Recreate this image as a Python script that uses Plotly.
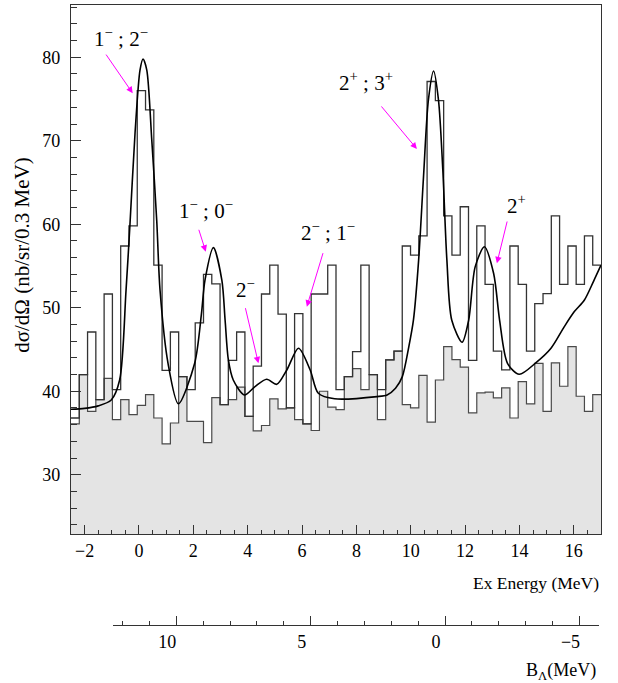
import plotly.graph_objects as go

# ---------------- data ----------------
EX_RANGE = [-2.5, 17.0]          # excitation-energy axis (MeV)
N_BINS = 64                      # histogram bins spanning EX_RANGE

# total spectrum (open histogram), one value per bin
total_counts = [
    36.8, 42.0, 47.1, 39.0, 51.65, 40.2, 57.4, 59.8, 76.0, 73.7,
    55.1, 42.5, 47.1, 41.75, 40.2, 48.2, 54.0, 52.85, 38.4, 43.7,
    47.1, 37.0, 43.0, 51.65, 55.1, 49.25, 38.0, 49.3, 36.1, 51.65,
    51.65, 55.1, 40.2, 41.75, 44.75, 55.1, 42.0, 40.2, 43.75, 44.8,
    57.4, 56.3, 58.6, 77.1, 74.8, 61.0, 56.3, 62.1, 43.7, 59.8,
    52.8, 44.8, 42.55, 57.4, 52.8, 44.8, 50.5, 51.7, 61.0, 52.8,
    57.4, 52.8, 58.6, 55.1,
]

# background spectrum (grey filled histogram)
background_counts = [
    36.1, 42.0, 37.6, 39.0, 41.55, 36.6, 39.0, 37.2, 38.3, 39.6,
    36.8, 33.7, 36.2, 41.75, 36.4, 36.4, 33.85, 39.24, 38.4, 39.0,
    40.5, 37.0, 35.25, 35.9, 39.1, 37.9, 38.0, 36.6, 36.1, 35.3,
    40.0, 38.1, 37.8, 41.75, 42.7, 40.2, 42.0, 36.6, 43.75, 44.8,
    38.4, 38.0, 41.9, 36.3, 41.35, 45.35, 43.8, 42.9, 37.4, 39.8,
    39.9, 39.2, 40.4, 36.8, 41.15, 38.5, 43.35, 37.6, 43.4, 40.6,
    45.35, 39.4, 37.6, 39.6,
]

# fitted curve, points
fit_ex = [
    -2.5, -2.0, -1.5, -1.02, -0.71, -0.475, -0.33, -0.144, 0.04, 0.15,
    0.287, 0.47, 0.655, 0.776, 1.07, 1.45, 2.05, 2.30, 2.43, 2.74,
    3.05, 3.17, 3.29, 3.47, 3.88, 4.27, 4.70, 5.07, 5.44, 5.87,
    6.30, 6.60, 7.2, 8.76, 9.13, 9.44, 9.69, 9.93, 10.10, 10.29,
    10.47, 10.65, 10.84, 11.02, 11.18, 11.33, 11.51, 11.89, 12.13, 12.37,
    12.71, 13.05, 13.27, 13.56, 13.99, 14.61, 15.16, 15.65, 16.02, 16.39,
    16.73, 17.0,
]
fit_xsec = [
    37.85, 37.95, 38.25, 38.96, 41.35, 52.1, 60.0, 70.9, 78.5, 79.8,
    78.5, 70.2, 60.4, 52.1, 43.35, 38.5, 43.35, 49.3, 53.3, 57.2,
    53.3, 48.5, 43.75, 41.35, 39.56, 40.56, 41.43, 40.83, 42.55, 45.15,
    42.55, 39.76, 39.1, 39.36, 39.56, 40.36, 41.75, 45.35, 48.54, 55.7,
    65.7, 74.9, 78.36, 74.9, 66.5, 55.7, 48.5, 45.87, 48.5, 54.9,
    57.3, 54.1, 48.5, 43.35, 42.03, 43.43, 45.15, 47.74, 49.54, 50.93,
    53.2, 55.1,
]

# state labels
peak_labels = [
    "1<sup>−</sup> ; 2<sup>−</sup>",
    "1<sup>−</sup> ; 0<sup>−</sup>",
    "2<sup>−</sup>",
    "2<sup>−</sup> ; 1<sup>−</sup>",
    "2<sup>+</sup> ; 3<sup>+</sup>",
    "2<sup>+</sup>",
]

BL_RANGE = [12.34, -5.71]        # B_Lambda axis (reversed)
Y_RANGE = [22.87, 86.26]

# ---------------- layout helpers (positions, not data) ----------------
label_pos = [(-0.66, 82.4), (2.45, 61.8), (3.905, 52.3),
             (6.97, 59.1), (8.34, 77.1), (13.89, 62.4)]
arrow_tail = [(-1.248, 80.5), (2.186, 59.52), (3.905, 50.13),
              (6.788, 56.72), (8.875, 74.29), (13.56, 60.51)]
arrow_tip = [(-0.229, 75.69), (2.459, 56.72), (4.395, 43.35),
             (6.177, 50.13), (10.226, 69.02), (13.17, 55.33)]

FONT = "Liberation Serif"
AX = "#333333"
MAGENTA = "#ff00ff"

bin_w = (EX_RANGE[1] - EX_RANGE[0]) / N_BINS
edges = [EX_RANGE[0] + i * bin_w for i in range(N_BINS + 1)]

fig = go.Figure()

fig.add_trace(go.Scatter(
    x=edges, y=background_counts + [background_counts[-1]],
    mode="lines", line=dict(shape="hv", color="#4a4a4a", width=1.2),
    fill="tozeroy", fillcolor="#e4e4e4",
    showlegend=False, hoverinfo="skip"))

fig.add_trace(go.Scatter(
    x=edges, y=total_counts + [total_counts[-1]],
    mode="lines", line=dict(shape="hv", color="#333333", width=1.3),
    showlegend=False, hoverinfo="skip"))

fig.add_trace(go.Scatter(
    x=fit_ex, y=fit_xsec, mode="lines",
    line=dict(shape="spline", smoothing=0.8, color="black", width=1.6),
    showlegend=False, hoverinfo="skip"))

# carrier for the secondary (B_Lambda) axis
fig.add_trace(go.Scatter(x=[None], y=[None], xaxis="x2", yaxis="y",
                         showlegend=False, hoverinfo="skip"))

annotations = []
for (tx, ty), (hx, hy) in zip(arrow_tail, arrow_tip):
    annotations.append(dict(
        x=hx, y=hy, ax=tx, ay=ty, xref="x", yref="y", axref="x", ayref="y",
        text="", showarrow=True, arrowhead=2, arrowsize=1.3, arrowwidth=1,
        arrowcolor=MAGENTA, standoff=0, startstandoff=0))
for (lx, ly), txt in zip(label_pos, peak_labels):
    annotations.append(dict(
        x=lx, y=ly, xref="x", yref="y", text=txt, showarrow=False,
        xanchor="center", yanchor="middle",
        font=dict(family=FONT, size=21, color="black")))

annotations.append(dict(
    x=1.0, y=0.0677, xref="paper", yref="paper", xanchor="right",
    yanchor="middle", text="Ex Energy (MeV)", showarrow=False,
    font=dict(family=FONT, size=17.5, color="black")))
annotations.append(dict(
    x=0.995, y=-0.075, xref="paper", yref="paper", xanchor="right",
    yanchor="middle", text="B<sub>Λ</sub>(MeV)", showarrow=False,
    font=dict(family=FONT, size=18, color="black")))
annotations.append(dict(
    x=-0.0925, y=0.597, xref="paper", yref="paper", xanchor="center",
    yanchor="middle", text="dσ/dΩ (nb/sr/0.3 MeV)", showarrow=False,
    textangle=-90, font=dict(family=FONT, size=21, color="black")))

fig.update_layout(
    width=618, height=683,
    margin=dict(l=71, r=17.3, t=5, b=58, pad=0),
    paper_bgcolor="white", plot_bgcolor="rgba(0,0,0,0)",
    font=dict(family=FONT, size=18, color="black"),
    showlegend=False,
    annotations=annotations,
    xaxis=dict(
        range=EX_RANGE, tick0=0, dtick=2, ticks="inside", ticklen=9,
        tickwidth=1, tickcolor=AX, showline=True, mirror=True,
        linecolor=AX, linewidth=1.2, showgrid=False, zeroline=False,
        tickfont=dict(family=FONT, size=18),
        minor=dict(dtick=0.5, ticks="inside", ticklen=4.5, tickcolor=AX,
                   showgrid=False),
    ),
    yaxis=dict(
        range=Y_RANGE, domain=[0.1463, 1.0], tick0=0, dtick=10,
        ticks="inside", ticklen=10, tickwidth=1, tickcolor=AX,
        showline=True, mirror=True, linecolor=AX, linewidth=1.2,
        showgrid=False, zeroline=False,
        tickfont=dict(family=FONT, size=18), ticklabelstandoff=6,
        minor=dict(dtick=2, ticks="inside", ticklen=5.5, tickcolor=AX,
                   showgrid=False),
    ),
    xaxis2=dict(
        range=BL_RANGE, domain=[0.0799, 0.9955], anchor="free", position=0,
        tick0=0, dtick=5, ticks="inside", ticklen=9, tickwidth=1,
        tickcolor=AX, showline=True, linecolor=AX, linewidth=1.2,
        showgrid=False, zeroline=False, ticklabelshift=9,
        tickfont=dict(family=FONT, size=18),
        minor=dict(dtick=1, ticks="inside", ticklen=4, tickcolor=AX,
                   showgrid=False),
    ),
)

fig.write_html("out.html",
               config={"displayModeBar": False},
               post_script="document.body.style.margin='0px';")
